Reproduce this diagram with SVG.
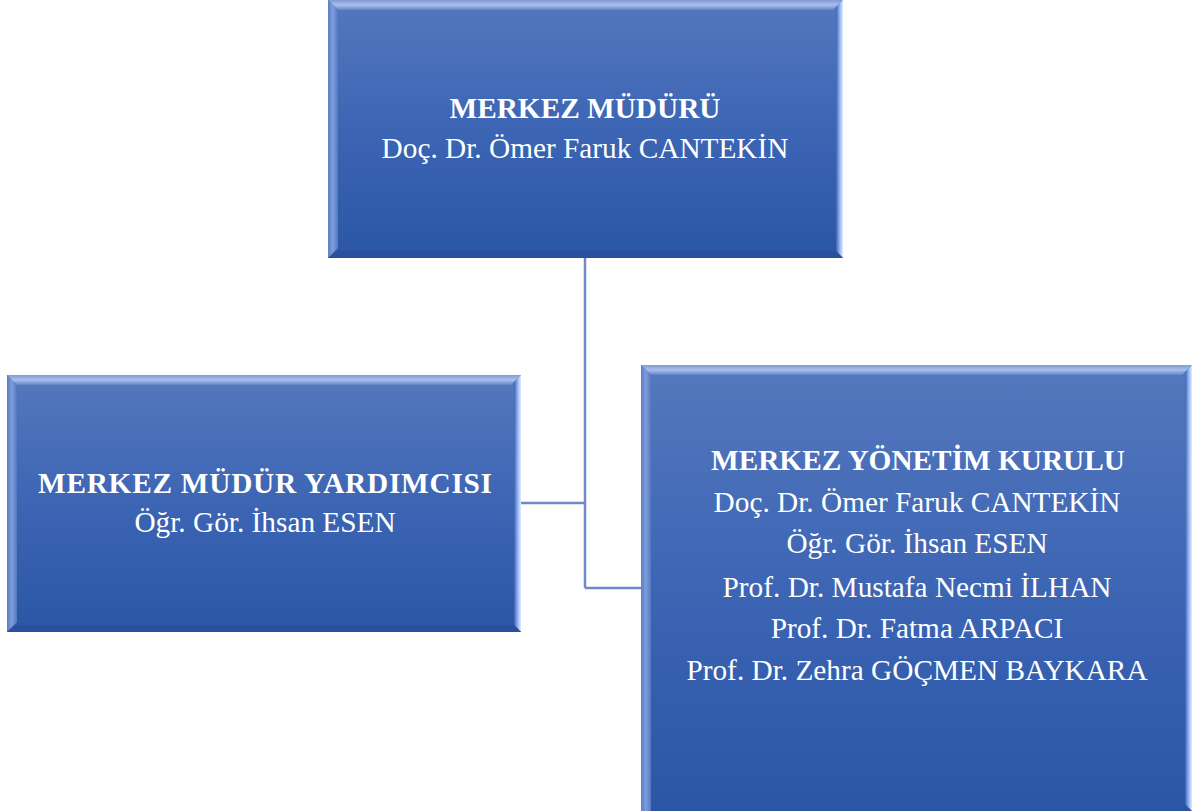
<svg xmlns="http://www.w3.org/2000/svg" width="1194" height="811" viewBox="0 0 1194 811">
<defs>
<linearGradient id="fill" x1="0" y1="0" x2="0" y2="1">
<stop offset="0" stop-color="#5578bd"/>
<stop offset="0.5" stop-color="#3c65b4"/>
<stop offset="1" stop-color="#2b56a6"/>
</linearGradient>
<linearGradient id="topb" x1="0" y1="0" x2="0" y2="1">
<stop offset="0" stop-color="#7f9bd3"/>
<stop offset="0.5" stop-color="#a9c0ee"/>
<stop offset="1" stop-color="#6484c6"/>
</linearGradient>
<linearGradient id="leftb" x1="0" y1="0" x2="1" y2="0">
<stop offset="0" stop-color="#5b7ec6"/>
<stop offset="0.5" stop-color="#7e9ddd"/>
<stop offset="1" stop-color="#5477bd"/>
</linearGradient>
<linearGradient id="rightb" x1="0" y1="0" x2="1" y2="0">
<stop offset="0" stop-color="#3a63b2"/>
<stop offset="0.5" stop-color="#8fb0ee"/>
<stop offset="1" stop-color="#e2ecff"/>
</linearGradient>
</defs>
<style>
.t{font-family:"Liberation Serif","Times New Roman",serif;fill:#ffffff;font-size:29.3px;text-anchor:middle}
.b{font-weight:bold}
.c{fill:none;stroke:#7189cb;stroke-width:2.5}
.bot{fill:#2a4f9c}
</style>
<g id="connectors">
<path class="c" d="M585 258 V588 M521 503 H585 M585 588 H641"/>
</g>
<g id="node-mudur">
<rect x="328" y="0" width="515" height="258" fill="url(#fill)"/>
<polygon points="328,0 843,0 833,10 338,10" fill="url(#topb)"/>
<polygon points="328,0 338,10 338,248 328,258" fill="url(#leftb)"/>
<polygon points="843,0 843,258 836,251 836,7" fill="url(#rightb)"/>
<polygon points="328,258 843,258 836,251 338,251" class="bot"/>
<text class="t b" x="585" y="118">MERKEZ MÜDÜRÜ</text>
<text class="t" x="585" y="158">Doç. Dr. Ömer Faruk CANTEKİN</text>
</g>
<g id="node-yardimci">
<rect x="7" y="375" width="514" height="257" fill="url(#fill)"/>
<polygon points="7,375 521,375 511,385 17,385" fill="url(#topb)"/>
<polygon points="7,375 17,385 17,622 7,632" fill="url(#leftb)"/>
<polygon points="521,375 521,632 514,625 514,382" fill="url(#rightb)"/>
<polygon points="7,632 521,632 514,625 17,625" class="bot"/>
<text class="t b" x="265" y="493" textLength="454" lengthAdjust="spacing">MERKEZ MÜDÜR YARDIMCISI</text>
<text class="t" x="265" y="532">Öğr. Gör. İhsan ESEN</text>
</g>
<g id="node-kurul">
<rect x="641" y="365" width="551" height="446" fill="url(#fill)"/>
<polygon points="641,365 1192,365 1182,375 651,375" fill="url(#topb)"/>
<polygon points="641,365 651,375 651,811 641,811" fill="url(#leftb)"/>
<polygon points="1192,365 1192,811 1185,804 1185,372" fill="url(#rightb)"/>
<text class="t b" x="918" y="470">MERKEZ YÖNETİM KURULU</text>
<text class="t" x="917" y="512">Doç. Dr. Ömer Faruk CANTEKİN</text>
<text class="t" x="917" y="553">Öğr. Gör. İhsan ESEN</text>
<text class="t" x="917" y="597">Prof. Dr. Mustafa Necmi İLHAN</text>
<text class="t" x="917" y="638">Prof. Dr. Fatma ARPACI</text>
<text class="t" x="917" y="680">Prof. Dr. Zehra GÖÇMEN BAYKARA</text>
</g>
</svg>
